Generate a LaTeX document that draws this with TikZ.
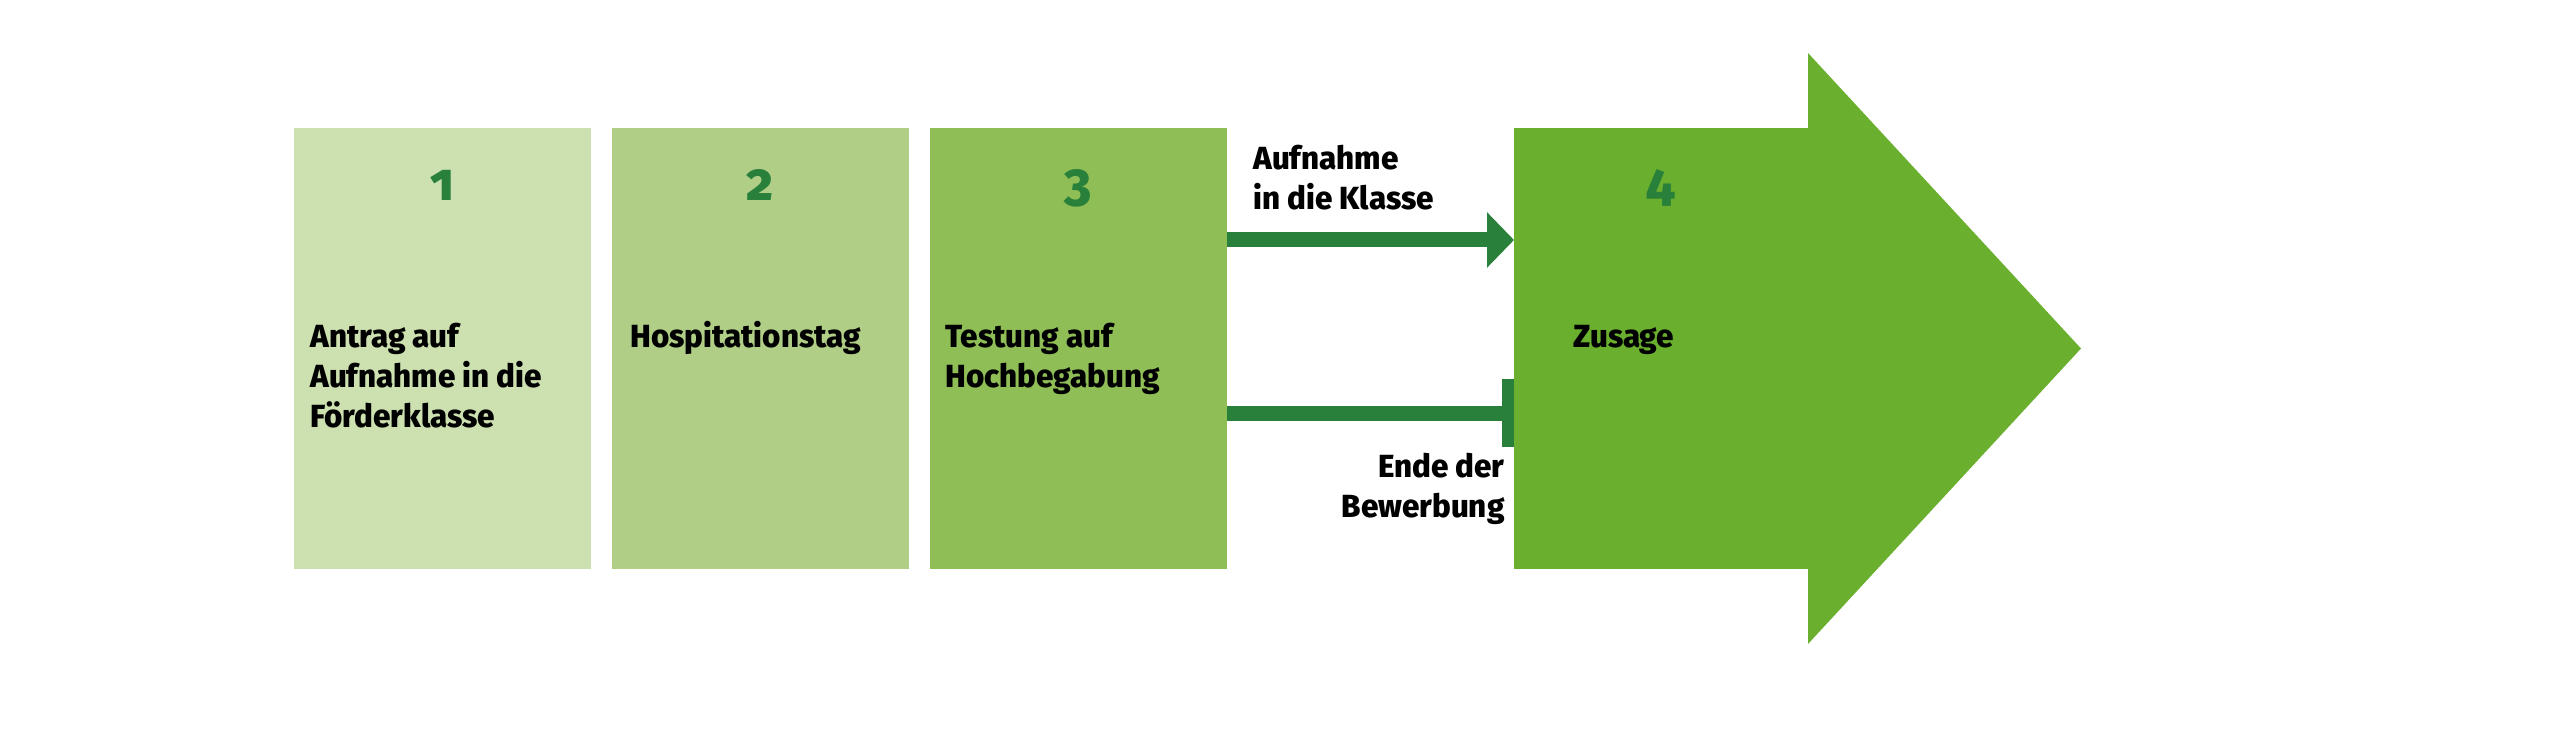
\documentclass[tikz,border=0pt]{standalone}
\usepackage{fontspec}
\setmainfont{Fira Sans}[FakeStretch=0.98, BoldFont={Fira Sans ExtraBold}]
\usetikzlibrary{positioning, arrows.meta}
\definecolor{stepone}{RGB}{205,224,176}
\definecolor{steptwo}{RGB}{176,206,134}
\definecolor{stepthree}{RGB}{143,190,86}
\definecolor{stepfour}{RGB}{106,176,46}
\definecolor{darkgreen}{RGB}{40,128,58}
\tikzset{
  stepbox/.style={minimum width=148.5pt, minimum height=220.5pt, inner sep=0pt, outer sep=0pt},
  num/.style={font=\fontsize{26.5pt}{26.5pt}\selectfont\bfseries\addfontfeatures{Numbers=OldStyle}, text=darkgreen, inner sep=0pt},
  txt/.style={font=\fontsize{16pt}{20pt}\selectfont\bfseries, align=left, inner sep=0pt},
  flow/.style={draw=darkgreen, line width=7.5pt}}

\begin{document}
\begin{tikzpicture}[x=0.5pt, y=-0.5pt]
\useasboundingbox (0,0) rectangle (2560,742);
% steps
\node[stepbox, fill=stepone, anchor=north west] (box1) at (294,128) {};
\node[stepbox, fill=steptwo, right=10.5pt of box1] (box2) {};
\node[stepbox, fill=stepthree, right=10.5pt of box2] (box3) {};
\node[stepbox, fill=stepfour, minimum width=147pt, anchor=north west] (box4) at (1514,128) {};
\fill[stepfour] (box4.south east) -- (box4.north east) -- ++(0pt,37.5pt) -- ++(136.5pt,-147.75pt) -- ++(-136.5pt,-147.75pt) -- cycle;
% numbers
\node[num, anchor=base, yshift=-36.5pt] (n1) at (box1.north) {1};
\node[num, anchor=base, yshift=-36.5pt] (n2) at (box2.north) {2};
\node[num, anchor=base, yshift=-36.5pt] (n3) at (box3.north) {3};
\node[num, anchor=base, yshift=-36.5pt] (n4) at (box4.north) {4};
% texts (base = last line)
\node[txt, anchor=base west, xshift=8pt, yshift=-150pt] (t1) at (box1.north west) {Antrag auf\\Aufnahme in die\\Förderklasse};
\node[txt, anchor=base west, xshift=9pt, yshift=-110pt] (t2) at (box2.north west) {Hospitationstag};
\node[txt, anchor=base west, xshift=7.5pt, yshift=-130pt] (t3) at (box3.north west) {Testung auf\\Hochbegabung};
\node[txt, anchor=base west, xshift=29.5pt, yshift=-110pt] (t4) at (box4.north west) {Zusage};
% outcomes
\draw[flow, -{Triangle[length=13.5pt, width=27pt]}] ([yshift=-56pt]box3.north east) -- ([yshift=-56pt]box4.north west);
\draw[flow, -{Rectangle[length=6pt, width=34pt]}] ([yshift=-142.75pt]box3.north east) -- ([yshift=-142.75pt]box4.north west);
\node[txt, anchor=base west] (yes) at ([xshift=13pt, yshift=-41pt]box3.north east) {Aufnahme\\in die Klasse};
\node[txt, anchor=base east, align=right] (no) at ([xshift=-4.5pt, yshift=-195pt]box4.north west) {Ende der\\Bewerbung};
\end{tikzpicture}
\end{document}
